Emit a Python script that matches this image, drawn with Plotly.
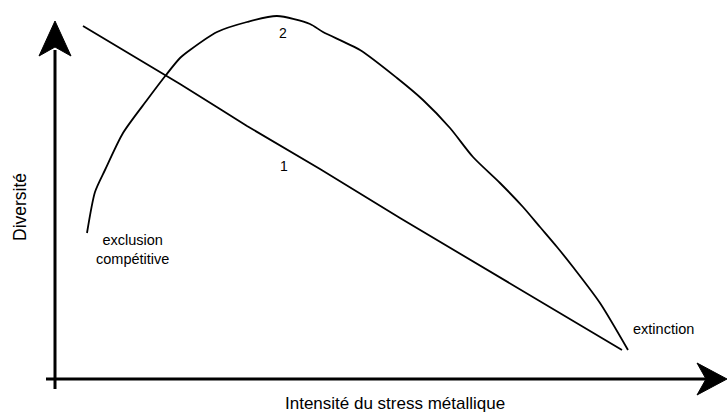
import plotly.graph_objects as go

# Data (x = stress intensity, y = diversity), origin at the axes intersection
curve2_x = [32, 40, 50, 68, 92, 111, 125, 135, 162, 192, 222, 255, 268, 305, 342, 368,
            395, 418, 445, 468, 485, 502, 518, 545, 573]
curve2_y = [146, 187, 209, 246, 279, 304, 321, 329, 347, 357, 363, 355, 347, 329, 301, 279,
            251, 222, 196, 172, 152, 132, 112, 76, 29]
line1_x = [28, 125, 165, 192, 265, 345, 567]
line1_y = [353, 295, 270, 253, 210, 161, 29]

x_title = "Intensité du stress métallique"
y_title = "Diversité"

W, H = 727, 419
OX, OY = 55, 379  # pixel of origin


def P(px, py):
    return px - OX, OY - py


FONT = "Liberation Sans, Arial, Helvetica, sans-serif"

fig = go.Figure()
fig.add_trace(go.Scatter(x=line1_x, y=line1_y, mode="lines",
                         line=dict(color="black", width=1.8), hoverinfo="skip"))
fig.add_trace(go.Scatter(x=curve2_x, y=curve2_y, mode="lines",
                         line=dict(color="black", width=1.8, shape="spline", smoothing=0.7),
                         hoverinfo="skip"))

shapes = []
# axes lines
x0, y0 = P(55, 389); x1, y1 = P(55, 50)
shapes.append(dict(type="line", x0=x0, y0=y0, x1=x1, y1=y1, xref="x", yref="y",
                   line=dict(color="black", width=3)))
x0, y0 = P(46, 379); x1, y1 = P(710, 379)
shapes.append(dict(type="line", x0=x0, y0=y0, x1=x1, y1=y1, xref="x", yref="y",
                   line=dict(color="black", width=3)))


def arrow_path(pts):
    d = []
    for i, (px, py) in enumerate(pts):
        x, y = P(px, py)
        d.append(("M" if i == 0 else "L") + f"{x},{y}")
    return " ".join(d) + " Z"


shapes.append(dict(type="path", xref="x", yref="y",
                   path=arrow_path([(55, 21), (39, 56), (55, 47), (71, 56)]),
                   fillcolor="black", line=dict(color="black", width=1)))
shapes.append(dict(type="path", xref="x", yref="y",
                   path=arrow_path([(727, 379), (697, 363), (706, 379), (697, 395)]),
                   fillcolor="black", line=dict(color="black", width=1)))

annots = []


def txt(text, px, py, size, angle=0):
    x, y = P(px, py)
    annots.append(dict(text=text, x=x, y=y, xref="x", yref="y", showarrow=False,
                       textangle=angle, font=dict(family=FONT, size=size, color="black"),
                       xanchor="center", yanchor="middle"))


txt("2", 283, 33, 14)
txt("1", 284, 166, 14)
txt("exclusion<br>compétitive", 132, 249, 14.5)
txt("extinction", 663, 329, 14.5)
txt(x_title, 395, 403, 17)
txt(y_title, 20, 207, 17.5, angle=-90)

fig.update_layout(
    width=W, height=H, margin=dict(l=0, r=0, t=0, b=0),
    paper_bgcolor="white", plot_bgcolor="white", showlegend=False,
    xaxis=dict(range=[-OX, W - OX], visible=False, fixedrange=True),
    yaxis=dict(range=[OY - H, OY], visible=False, fixedrange=True),
    shapes=shapes, annotations=annots,
)

fig.write_html("out.html", config={"displayModeBar": False},
               post_script="document.body.style.margin='0';document.body.style.overflow='hidden';")
